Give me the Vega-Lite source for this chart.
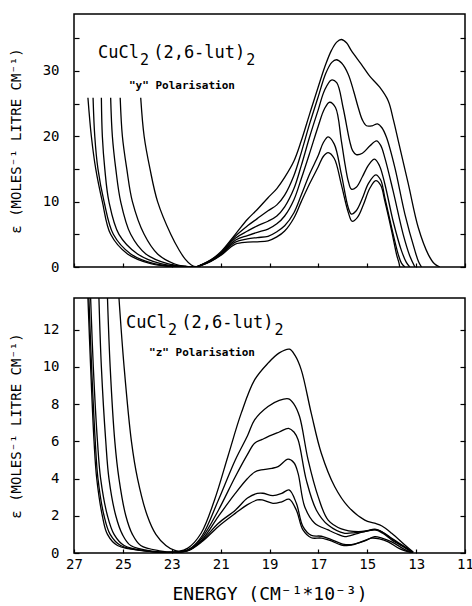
{
"$schema": "https://vega.github.io/schema/vega-lite/v6.json",
"background": "white",
"padding": {"left": 8, "right": 8, "top": 13, "bottom": 0},
"spacing": 22,
"config": {
  "view": {"stroke": "black", "strokeWidth": 1.5},
  "font": "DejaVu Sans Mono",
  "axis": {"domain": false, "grid": false, "tickColor": "black", "labelColor": "black", "titleColor": "black", "labelFont": "DejaVu Sans Mono", "titleFont": "DejaVu Sans Mono", "titleFontWeight": "normal", "labelFontSize": 14, "tickWidth": 1.2},
  "text": {"font": "DejaVu Sans Mono", "color": "black", "align": "left", "baseline": "alphabetic"}
},
"datasets": {
"y": [
{"c":1,"E":24.27,"v":25.9},{"c":1,"E":24.13,"v":20},{"c":1,"E":23.89,"v":15},{"c":1,"E":23.58,"v":10},{"c":1,"E":23.04,"v":5},{"c":1,"E":22.7,"v":2.6},{"c":1,"E":22.45,"v":1.2},{"c":1,"E":22.2,"v":0.3},{"c":1,"E":22.0,"v":0.05},{"c":1,"E":21.8,"v":0.35},{"c":1,"E":21.4,"v":1.1},{"c":1,"E":21.0,"v":2.3},{"c":1,"E":20.4,"v":5.0},{"c":1,"E":19.9,"v":7.3},{"c":1,"E":19.5,"v":8.8},{"c":1,"E":19.06,"v":10.6},{"c":1,"E":18.7,"v":12.0},{"c":1,"E":18.38,"v":13.7},{"c":1,"E":18.0,"v":16.2},{"c":1,"E":17.7,"v":19.3},{"c":1,"E":17.35,"v":23.5},{"c":1,"E":17.01,"v":27.5},{"c":1,"E":16.7,"v":31.0},{"c":1,"E":16.47,"v":33.1},{"c":1,"E":16.25,"v":34.4},{"c":1,"E":16.06,"v":34.8},{"c":1,"E":15.85,"v":34.3},{"c":1,"E":15.65,"v":33.1},{"c":1,"E":15.24,"v":31.0},{"c":1,"E":14.9,"v":29.2},{"c":1,"E":14.49,"v":27.5},{"c":1,"E":14.14,"v":25.4},{"c":1,"E":13.93,"v":22.5},{"c":1,"E":13.73,"v":19.3},{"c":1,"E":13.32,"v":12.7},{"c":1,"E":12.91,"v":6.0},{"c":1,"E":12.5,"v":1.9},{"c":1,"E":12.25,"v":0.5},{"c":1,"E":12.03,"v":0},
{"c":2,"E":25.11,"v":25.9},{"c":2,"E":25.02,"v":20},{"c":2,"E":24.84,"v":15},{"c":2,"E":24.61,"v":10},{"c":2,"E":24.13,"v":5},{"c":2,"E":23.58,"v":2},{"c":2,"E":22.9,"v":0.5},{"c":2,"E":22.4,"v":0.1},{"c":2,"E":22.0,"v":0.03},{"c":2,"E":21.8,"v":0.3},{"c":2,"E":21.4,"v":1.05},{"c":2,"E":21.0,"v":2.15},{"c":2,"E":20.4,"v":4.7},{"c":2,"E":19.9,"v":6.3},{"c":2,"E":19.5,"v":7.4},{"c":2,"E":19.06,"v":8.6},{"c":2,"E":18.7,"v":9.5},{"c":2,"E":18.38,"v":11.0},{"c":2,"E":18.0,"v":14.0},{"c":2,"E":17.7,"v":17.5},{"c":2,"E":17.35,"v":22.0},{"c":2,"E":17.01,"v":26.0},{"c":2,"E":16.7,"v":29.6},{"c":2,"E":16.45,"v":31.3},{"c":2,"E":16.26,"v":31.7},{"c":2,"E":16.05,"v":31.2},{"c":2,"E":15.78,"v":29.5},{"c":2,"E":15.55,"v":26.8},{"c":2,"E":15.37,"v":24.4},{"c":2,"E":15.2,"v":22.5},{"c":2,"E":15.03,"v":21.6},{"c":2,"E":14.8,"v":21.6},{"c":2,"E":14.58,"v":21.9},{"c":2,"E":14.4,"v":21.3},{"c":2,"E":14.21,"v":19.8},{"c":2,"E":13.87,"v":15.2},{"c":2,"E":13.46,"v":8.1},{"c":2,"E":13.05,"v":2.5},{"c":2,"E":12.9,"v":0.8},{"c":2,"E":12.78,"v":0},
{"c":3,"E":25.5,"v":25.9},{"c":3,"E":25.43,"v":20},{"c":3,"E":25.29,"v":15},{"c":3,"E":25.09,"v":10},{"c":3,"E":24.68,"v":5},{"c":3,"E":24.06,"v":2},{"c":3,"E":23.17,"v":0.5},{"c":3,"E":22.5,"v":0.1},{"c":3,"E":22.0,"v":0.02},{"c":3,"E":21.8,"v":0.28},{"c":3,"E":21.4,"v":1.0},{"c":3,"E":21.0,"v":2.05},{"c":3,"E":20.4,"v":4.4},{"c":3,"E":19.9,"v":5.5},{"c":3,"E":19.5,"v":6.3},{"c":3,"E":19.06,"v":7.0},{"c":3,"E":18.7,"v":7.8},{"c":3,"E":18.38,"v":9.2},{"c":3,"E":18.0,"v":12.0},{"c":3,"E":17.7,"v":15.5},{"c":3,"E":17.35,"v":20.0},{"c":3,"E":17.01,"v":24.0},{"c":3,"E":16.75,"v":27.0},{"c":3,"E":16.47,"v":28.6},{"c":3,"E":16.25,"v":28.2},{"c":3,"E":15.99,"v":24.4},{"c":3,"E":15.72,"v":19.3},{"c":3,"E":15.6,"v":17.8},{"c":3,"E":15.45,"v":17.2},{"c":3,"E":15.2,"v":17.4},{"c":3,"E":14.9,"v":18.5},{"c":3,"E":14.62,"v":19.3},{"c":3,"E":14.45,"v":18.6},{"c":3,"E":14.28,"v":16.7},{"c":3,"E":13.94,"v":11.6},{"c":3,"E":13.53,"v":5.0},{"c":3,"E":13.25,"v":1.6},{"c":3,"E":13.05,"v":0},
{"c":4,"E":25.88,"v":25.9},{"c":4,"E":25.84,"v":20},{"c":4,"E":25.74,"v":15},{"c":4,"E":25.57,"v":10},{"c":4,"E":25.16,"v":5},{"c":4,"E":24.4,"v":2},{"c":4,"E":23.45,"v":0.5},{"c":4,"E":22.6,"v":0.08},{"c":4,"E":22.0,"v":0.02},{"c":4,"E":21.8,"v":0.26},{"c":4,"E":21.4,"v":0.95},{"c":4,"E":21.0,"v":1.95},{"c":4,"E":20.4,"v":4.1},{"c":4,"E":19.9,"v":4.8},{"c":4,"E":19.5,"v":5.3},{"c":4,"E":19.06,"v":5.8},{"c":4,"E":18.7,"v":6.6},{"c":4,"E":18.38,"v":7.8},{"c":4,"E":18.0,"v":10.3},{"c":4,"E":17.7,"v":13.5},{"c":4,"E":17.35,"v":17.5},{"c":4,"E":17.01,"v":21.5},{"c":4,"E":16.75,"v":24.2},{"c":4,"E":16.54,"v":25.2},{"c":4,"E":16.3,"v":24.4},{"c":4,"E":16.06,"v":19.3},{"c":4,"E":15.9,"v":15.5},{"c":4,"E":15.78,"v":13.2},{"c":4,"E":15.65,"v":11.9},{"c":4,"E":15.45,"v":12.2},{"c":4,"E":15.2,"v":13.8},{"c":4,"E":14.95,"v":15.6},{"c":4,"E":14.7,"v":16.5},{"c":4,"E":14.5,"v":15.5},{"c":4,"E":14.28,"v":12.7},{"c":4,"E":13.94,"v":7.0},{"c":4,"E":13.6,"v":2.5},{"c":4,"E":13.4,"v":0.7},{"c":4,"E":13.26,"v":0},
{"c":5,"E":26.22,"v":25.9},{"c":5,"E":26.15,"v":20},{"c":5,"E":26.02,"v":15},{"c":5,"E":25.77,"v":10},{"c":5,"E":25.39,"v":5},{"c":5,"E":24.68,"v":2},{"c":5,"E":23.72,"v":0.5},{"c":5,"E":22.8,"v":0.06},{"c":5,"E":22.0,"v":0.02},{"c":5,"E":21.8,"v":0.25},{"c":5,"E":21.4,"v":0.9},{"c":5,"E":21.0,"v":1.85},{"c":5,"E":20.4,"v":3.8},{"c":5,"E":19.9,"v":4.3},{"c":5,"E":19.5,"v":4.5},{"c":5,"E":19.06,"v":4.7},{"c":5,"E":18.7,"v":5.4},{"c":5,"E":18.38,"v":6.3},{"c":5,"E":18.0,"v":8.3},{"c":5,"E":17.7,"v":11.0},{"c":5,"E":17.35,"v":14.3},{"c":5,"E":17.01,"v":17.0},{"c":5,"E":16.8,"v":19.0},{"c":5,"E":16.6,"v":19.9},{"c":5,"E":16.35,"v":18.8},{"c":5,"E":16.06,"v":14.2},{"c":5,"E":15.78,"v":9.1},{"c":5,"E":15.65,"v":8.1},{"c":5,"E":15.45,"v":8.6},{"c":5,"E":15.2,"v":10.5},{"c":5,"E":14.95,"v":12.8},{"c":5,"E":14.65,"v":14.1},{"c":5,"E":14.45,"v":13.3},{"c":5,"E":14.28,"v":10.6},{"c":5,"E":14.0,"v":6.0},{"c":5,"E":13.73,"v":1.9},{"c":5,"E":13.6,"v":0.6},{"c":5,"E":13.46,"v":0},
{"c":6,"E":26.43,"v":25.9},{"c":6,"E":26.29,"v":20},{"c":6,"E":26.11,"v":15},{"c":6,"E":25.84,"v":10},{"c":6,"E":25.5,"v":5},{"c":6,"E":24.81,"v":2},{"c":6,"E":23.86,"v":0.5},{"c":6,"E":23.0,"v":0.05},{"c":6,"E":22.0,"v":0.02},{"c":6,"E":21.8,"v":0.24},{"c":6,"E":21.4,"v":0.85},{"c":6,"E":21.0,"v":1.75},{"c":6,"E":20.4,"v":3.5},{"c":6,"E":19.9,"v":3.8},{"c":6,"E":19.5,"v":3.85},{"c":6,"E":19.06,"v":4.0},{"c":6,"E":18.7,"v":4.6},{"c":6,"E":18.38,"v":5.5},{"c":6,"E":18.0,"v":7.5},{"c":6,"E":17.7,"v":10.0},{"c":6,"E":17.35,"v":12.8},{"c":6,"E":17.01,"v":15.3},{"c":6,"E":16.8,"v":16.9},{"c":6,"E":16.6,"v":17.5},{"c":6,"E":16.35,"v":16.6},{"c":6,"E":16.06,"v":12.6},{"c":6,"E":15.78,"v":8.4},{"c":6,"E":15.62,"v":7.0},{"c":6,"E":15.4,"v":7.6},{"c":6,"E":15.15,"v":9.6},{"c":6,"E":14.9,"v":12.0},{"c":6,"E":14.65,"v":13.2},{"c":6,"E":14.45,"v":12.5},{"c":6,"E":14.28,"v":10.1},{"c":6,"E":14.0,"v":5.5},{"c":6,"E":13.8,"v":1.9},{"c":6,"E":13.7,"v":0.6},{"c":6,"E":13.67,"v":0}
],
"z": [
{"c":1,"E":25.16,"v":13.7},{"c":1,"E":24.95,"v":10},{"c":1,"E":24.65,"v":6},{"c":1,"E":24.4,"v":4},{"c":1,"E":24.0,"v":2},{"c":1,"E":23.65,"v":1},{"c":1,"E":23.24,"v":0.4},{"c":1,"E":22.9,"v":0.15},{"c":1,"E":22.7,"v":0.1},{"c":1,"E":22.34,"v":0.26},{"c":1,"E":21.8,"v":1.06},{"c":1,"E":21.25,"v":2.85},{"c":1,"E":20.7,"v":5.2},{"c":1,"E":20.16,"v":7.5},{"c":1,"E":19.61,"v":9.3},{"c":1,"E":19.06,"v":10.2},{"c":1,"E":18.6,"v":10.75},{"c":1,"E":18.18,"v":10.95},{"c":1,"E":17.95,"v":10.6},{"c":1,"E":17.7,"v":9.84},{"c":1,"E":17.29,"v":7.5},{"c":1,"E":16.88,"v":5.36},{"c":1,"E":16.33,"v":3.56},{"c":1,"E":15.78,"v":2.49},{"c":1,"E":15.1,"v":1.77},{"c":1,"E":14.7,"v":1.6},{"c":1,"E":14.4,"v":1.45},{"c":1,"E":14.0,"v":1.06},{"c":1,"E":13.46,"v":0.43},{"c":1,"E":13.12,"v":0.05},
{"c":2,"E":25.63,"v":13.7},{"c":2,"E":25.52,"v":10},{"c":2,"E":25.33,"v":6},{"c":2,"E":25.16,"v":4},{"c":2,"E":24.88,"v":2},{"c":2,"E":24.61,"v":1},{"c":2,"E":24.27,"v":0.4},{"c":2,"E":23.5,"v":0.12},{"c":2,"E":22.8,"v":0.06},{"c":2,"E":22.3,"v":0.2},{"c":2,"E":21.77,"v":0.9},{"c":2,"E":21.09,"v":2.85},{"c":2,"E":20.4,"v":5.0},{"c":2,"E":19.9,"v":6.3},{"c":2,"E":19.61,"v":7.15},{"c":2,"E":19.06,"v":7.87},{"c":2,"E":18.6,"v":8.2},{"c":2,"E":18.22,"v":8.28},{"c":2,"E":18.0,"v":8.0},{"c":2,"E":17.77,"v":7.33},{"c":2,"E":17.42,"v":5.0},{"c":2,"E":17.01,"v":3.03},{"c":2,"E":16.6,"v":1.77},{"c":2,"E":16.06,"v":1.3},{"c":2,"E":15.37,"v":1.15},{"c":2,"E":15.0,"v":1.2},{"c":2,"E":14.69,"v":1.28},{"c":2,"E":14.35,"v":1.1},{"c":2,"E":14.0,"v":0.79},{"c":2,"E":13.46,"v":0.34},{"c":2,"E":13.12,"v":0.03},
{"c":3,"E":25.98,"v":13.7},{"c":3,"E":25.88,"v":10},{"c":3,"E":25.7,"v":6},{"c":3,"E":25.57,"v":4},{"c":3,"E":25.29,"v":2},{"c":3,"E":25.02,"v":1},{"c":3,"E":24.68,"v":0.4},{"c":3,"E":23.8,"v":0.1},{"c":3,"E":22.8,"v":0.05},{"c":3,"E":22.3,"v":0.18},{"c":3,"E":21.77,"v":0.8},{"c":3,"E":21.09,"v":2.3},{"c":3,"E":20.4,"v":4.1},{"c":3,"E":19.9,"v":5.3},{"c":3,"E":19.61,"v":5.9},{"c":3,"E":19.3,"v":6.1},{"c":3,"E":19.06,"v":6.25},{"c":3,"E":18.6,"v":6.5},{"c":3,"E":18.22,"v":6.7},{"c":3,"E":18.0,"v":6.5},{"c":3,"E":17.83,"v":6.08},{"c":3,"E":17.49,"v":3.9},{"c":3,"E":17.08,"v":2.3},{"c":3,"E":16.6,"v":1.5},{"c":3,"E":15.92,"v":1.06},{"c":3,"E":15.5,"v":1.1},{"c":3,"E":15.1,"v":1.15},{"c":3,"E":14.6,"v":1.25},{"c":3,"E":14.3,"v":1.05},{"c":3,"E":14.0,"v":0.75},{"c":3,"E":13.46,"v":0.3},{"c":3,"E":13.12,"v":0.03},
{"c":4,"E":26.32,"v":13.7},{"c":4,"E":26.21,"v":10},{"c":4,"E":26.04,"v":6},{"c":4,"E":25.91,"v":4},{"c":4,"E":25.63,"v":2},{"c":4,"E":25.36,"v":1},{"c":4,"E":24.95,"v":0.4},{"c":4,"E":24.0,"v":0.1},{"c":4,"E":22.8,"v":0.04},{"c":4,"E":22.3,"v":0.16},{"c":4,"E":21.77,"v":0.7},{"c":4,"E":21.09,"v":1.97},{"c":4,"E":20.4,"v":3.2},{"c":4,"E":19.9,"v":4.0},{"c":4,"E":19.6,"v":4.35},{"c":4,"E":19.34,"v":4.46},{"c":4,"E":18.9,"v":4.55},{"c":4,"E":18.65,"v":4.64},{"c":4,"E":18.24,"v":5.04},{"c":4,"E":18.0,"v":4.85},{"c":4,"E":17.83,"v":4.28},{"c":4,"E":17.56,"v":2.49},{"c":4,"E":17.15,"v":1.6},{"c":4,"E":16.6,"v":1.24},{"c":4,"E":16.2,"v":1.0},{"c":4,"E":15.92,"v":0.88},{"c":4,"E":15.37,"v":1.06},{"c":4,"E":14.69,"v":1.24},{"c":4,"E":14.35,"v":1.05},{"c":4,"E":14.0,"v":0.7},{"c":4,"E":13.46,"v":0.28},{"c":4,"E":13.15,"v":0.02},
{"c":5,"E":26.39,"v":13.7},{"c":5,"E":26.28,"v":10},{"c":5,"E":26.13,"v":6},{"c":5,"E":26.02,"v":4},{"c":5,"E":25.77,"v":2},{"c":5,"E":25.52,"v":1},{"c":5,"E":25.09,"v":0.4},{"c":5,"E":24.0,"v":0.1},{"c":5,"E":22.8,"v":0.04},{"c":5,"E":22.3,"v":0.15},{"c":5,"E":21.77,"v":0.65},{"c":5,"E":21.09,"v":1.6},{"c":5,"E":20.4,"v":2.3},{"c":5,"E":19.9,"v":2.95},{"c":5,"E":19.5,"v":3.2},{"c":5,"E":19.27,"v":3.21},{"c":5,"E":18.86,"v":3.08},{"c":5,"E":18.5,"v":3.2},{"c":5,"E":18.2,"v":3.39},{"c":5,"E":17.9,"v":2.67},{"c":5,"E":17.63,"v":1.42},{"c":5,"E":17.29,"v":0.95},{"c":5,"E":16.88,"v":0.9},{"c":5,"E":16.47,"v":0.72},{"c":5,"E":16.0,"v":0.48},{"c":5,"E":15.65,"v":0.45},{"c":5,"E":15.1,"v":0.65},{"c":5,"E":14.7,"v":0.88},{"c":5,"E":14.4,"v":0.8},{"c":5,"E":14.0,"v":0.6},{"c":5,"E":13.46,"v":0.18},{"c":5,"E":13.15,"v":0.02},
{"c":6,"E":26.43,"v":13.7},{"c":6,"E":26.32,"v":10},{"c":6,"E":26.18,"v":6},{"c":6,"E":26.07,"v":4},{"c":6,"E":25.84,"v":2},{"c":6,"E":25.63,"v":1},{"c":6,"E":25.22,"v":0.4},{"c":6,"E":24.0,"v":0.1},{"c":6,"E":22.8,"v":0.03},{"c":6,"E":22.3,"v":0.14},{"c":6,"E":21.77,"v":0.6},{"c":6,"E":21.09,"v":1.43},{"c":6,"E":20.4,"v":2.13},{"c":6,"E":19.9,"v":2.6},{"c":6,"E":19.5,"v":2.85},{"c":6,"E":19.3,"v":2.85},{"c":6,"E":18.86,"v":2.67},{"c":6,"E":18.5,"v":2.75},{"c":6,"E":18.2,"v":2.89},{"c":6,"E":17.9,"v":2.3},{"c":6,"E":17.63,"v":1.24},{"c":6,"E":17.29,"v":0.82},{"c":6,"E":16.88,"v":0.8},{"c":6,"E":16.47,"v":0.65},{"c":6,"E":16.06,"v":0.43},{"c":6,"E":15.65,"v":0.42},{"c":6,"E":15.2,"v":0.62},{"c":6,"E":14.83,"v":0.8},{"c":6,"E":14.5,"v":0.76},{"c":6,"E":14.14,"v":0.6},{"c":6,"E":13.7,"v":0.25},{"c":6,"E":13.2,"v":0.02}
]
},
"vconcat": [
{
  "width": 391, "height": 253,
  "resolve": {"axis": {"y": "independent"}},
  "layer": [
    {
      "data": {"name": "y"},
      "mark": {"type": "line", "interpolate": "catmull-rom", "color": "black", "strokeWidth": 1.3, "clip": true},
      "encoding": {
        "x": {"field": "E", "type": "quantitative", "scale": {"domain": [11, 27], "reverse": true, "nice": false},
              "axis": {"values": [11,11.5,12,12.5,13,13.5,14,14.5,15,15.5,16,16.5,17,17.5,18,18.5,19,19.5,20,20.5,21,21.5,22,22.5,23,23.5,24,24.5,25,25.5,26,26.5,27], "labels": false, "tickSize": -4, "title": null}},
        "y": {"field": "v", "type": "quantitative", "scale": {"domain": [0, 38.7], "nice": false},
              "axis": {"values": [0,5,10,15,20,25,30,35], "labelExpr": "datum.value % 10 == 0 ? datum.label : ''", "tickSize": -5, "labelPadding": 20, "title": "ε (MOLES⁻¹ LITRE CM⁻¹)", "titleFontSize": 14, "titlePadding": 19}},
        "detail": {"field": "c"},
        "order": {"field": "E", "sort": "descending"}
      }
    },
    {"data": {"values": [{}]}, "mark": {"type": "text", "fontSize": 17},
     "encoding": {"x": {"datum": 26.02}, "y": {"datum": 32.0, "axis": null}, "text": {"value": "CuCl"}}},
    {"data": {"values": [{}]}, "mark": {"type": "text", "fontSize": 15, "dy": 7},
     "encoding": {"x": {"datum": 24.3}, "y": {"datum": 32.0, "axis": null}, "text": {"value": "2"}}},
    {"data": {"values": [{}]}, "mark": {"type": "text", "fontSize": 17},
     "encoding": {"x": {"datum": 23.76}, "y": {"datum": 32.0, "axis": null}, "text": {"value": "(2,6-lut)"}}},
    {"data": {"values": [{}]}, "mark": {"type": "text", "fontSize": 15, "dy": 7},
     "encoding": {"x": {"datum": 19.95}, "y": {"datum": 32.0, "axis": null}, "text": {"value": "2"}}},
    {"data": {"values": [{}]}, "mark": {"type": "text", "baseline": "middle", "fontSize": 11, "fontWeight": "bold"},
     "encoding": {"x": {"datum": 24.75}, "y": {"datum": 27.7, "axis": null}, "text": {"value": "\"y\" Polarisation"}}},
    {"data": {"values": [{}]}, "mark": {"type": "text", "text": ""},
     "encoding": {"y": {"datum": 0, "type": "quantitative", "axis": {"orient": "right", "values": [0,5,10,15,20,25,30,35], "labels": false, "tickSize": -5, "title": null}}}}
  ]
},
{
  "width": 391, "height": 255,
  "resolve": {"axis": {"y": "independent"}},
  "layer": [
    {
      "data": {"name": "z"},
      "mark": {"type": "line", "interpolate": "catmull-rom", "color": "black", "strokeWidth": 1.3, "clip": true},
      "encoding": {
        "x": {"field": "E", "type": "quantitative", "scale": {"domain": [11, 27], "reverse": true, "nice": false},
              "axis": {"values": [11,11.5,12,12.5,13,13.5,14,14.5,15,15.5,16,16.5,17,17.5,18,18.5,19,19.5,20,20.5,21,21.5,22,22.5,23,23.5,24,24.5,25,25.5,26,26.5,27], "labelExpr": "datum.value % 2 == 1 ? datum.label : ''", "tickSize": -4, "labelPadding": 8, "labelFlush": false, "title": "ENERGY  (CM⁻¹*10⁻³)", "titleFontSize": 18, "titlePadding": 14}},
        "y": {"field": "v", "type": "quantitative", "scale": {"domain": [0, 13.7], "nice": false},
              "axis": {"values": [0,2,4,6,8,10,12], "tickSize": -5, "labelPadding": 20, "title": "ε (MOLES⁻¹ LITRE CM⁻¹)", "titleFontSize": 14, "titlePadding": 19}},
        "detail": {"field": "c"},
        "order": {"field": "E", "sort": "descending"}
      }
    },
    {"data": {"values": [{}]}, "mark": {"type": "text", "fontSize": 17},
     "encoding": {"x": {"datum": 24.87}, "y": {"datum": 12.1, "axis": null}, "text": {"value": "CuCl"}}},
    {"data": {"values": [{}]}, "mark": {"type": "text", "fontSize": 15, "dy": 7},
     "encoding": {"x": {"datum": 23.15}, "y": {"datum": 12.1, "axis": null}, "text": {"value": "2"}}},
    {"data": {"values": [{}]}, "mark": {"type": "text", "fontSize": 17},
     "encoding": {"x": {"datum": 22.61}, "y": {"datum": 12.1, "axis": null}, "text": {"value": "(2,6-lut)"}}},
    {"data": {"values": [{}]}, "mark": {"type": "text", "fontSize": 15, "dy": 7},
     "encoding": {"x": {"datum": 18.8}, "y": {"datum": 12.1, "axis": null}, "text": {"value": "2"}}},
    {"data": {"values": [{}]}, "mark": {"type": "text", "baseline": "middle", "fontSize": 11, "fontWeight": "bold"},
     "encoding": {"x": {"datum": 23.93}, "y": {"datum": 10.75, "axis": null}, "text": {"value": "\"z\" Polarisation"}}},
    {"data": {"values": [{}]}, "mark": {"type": "text", "text": ""},
     "encoding": {"y": {"datum": 0, "type": "quantitative", "axis": {"orient": "right", "values": [0,2,4,6,8,10,12], "labels": false, "tickSize": -5, "title": null}}}}
  ]
}
]
}
